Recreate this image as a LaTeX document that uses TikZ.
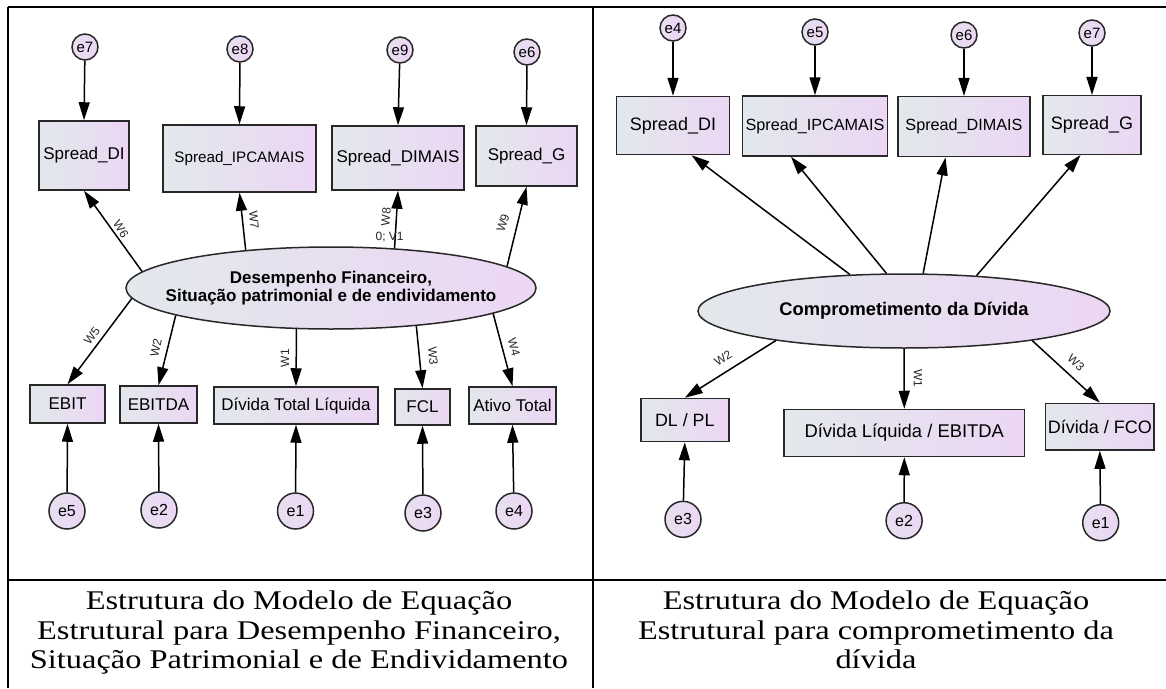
\documentclass[tikz,border=0pt]{standalone}
\usepackage{fontspec}
\setmainfont{Liberation Sans}
\newfontfamily\capfont[FakeStretch=1.2]{Liberation Serif}
\usetikzlibrary{arrows.meta,shapes.geometric}

\definecolor{fillL}{RGB}{226,232,236}
\definecolor{fillR}{RGB}{236,214,244}
\definecolor{edgec}{RGB}{40,40,40}

\tikzset{
 obs/.style={draw=edgec, line width=1.5pt, rectangle, left color=fillL, right color=fillR, inner sep=0pt, font=\fontsize{17}{20}\selectfont},
 err/.style={draw=edgec, line width=1.5pt, circle, inner sep=0pt, left color=fillL!50!fillR, right color=fillR, minimum size=26pt, font=\fontsize{15}{18}\selectfont},
 errb/.style={err, minimum size=36pt, font=\fontsize{16}{19}\selectfont},
 lat/.style={draw=edgec, line width=1.5pt, ellipse, left color=fillL, right color=fillR, inner sep=0pt},
 arr/.style={line width=1.5pt, -{Triangle[length=18pt,width=11pt]}},
 wlab/.style={font=\fontsize{12}{14}\selectfont, inner sep=0pt, text=black!85},
 gridline/.style={line width=2pt},
 captxt/.style={font=\capfont\fontsize{27}{29}\selectfont, anchor=base, inner sep=0pt},
}

\begin{document}
\begin{tikzpicture}[x=1pt,y=-1pt]
\useasboundingbox (0,0) rectangle (1166,688);
\fill[white] (0,0) rectangle (1166,688);

% table grid
\draw[gridline] (8,7) -- (1166,7);
\draw[gridline] (8,7) -- (8,688);
\draw[gridline] (593,7) -- (593,688);
\draw[gridline] (8,580) -- (1166,580);

% ---------- left panel ----------
\node[err] (e7) at (85,47) {e7};
\node[err] (e8) at (240,49) {e8};
\node[err] (e9) at (400,50) {e9};
\node[err] (e6) at (527,52) {e6};

\node[obs, minimum width=90pt, minimum height=69pt] (sdi) at (84,155.5) {Spread\_DI};
\node[obs, minimum width=153pt, minimum height=67pt, font=\fontsize{15.2}{18}\selectfont] (sipca) at (239.5,158.5) {Spread\_IPCAMAIS};
\node[obs, minimum width=132pt, minimum height=64pt] (sdimais) at (398,158) {Spread\_DIMAIS};
\node[obs, minimum width=101pt, minimum height=60pt] (sg) at (526.5,156) {Spread\_G};

\node[lat, minimum width=410pt, minimum height=82pt,
  label={[font=\bfseries\fontsize{17}{18.5}\selectfont, align=center]center:{Desempenho Financeiro,\\Situação patrimonial e de endividamento}}] (lat1) at (331,288) {};

\node[obs, minimum width=75pt, minimum height=38pt] (ebit) at (67.5,404) {EBIT};
\node[obs, minimum width=77pt, minimum height=37pt] (ebitda) at (158.5,404.5) {EBITDA};
\node[obs, minimum width=164pt, minimum height=37pt] (dtl) at (296,405.5) {Dívida Total Líquida};
\node[obs, minimum width=55pt, minimum height=36pt] (fcl) at (422.5,407) {FCL};
\node[obs, minimum width=87pt, minimum height=37pt] (ativo) at (512.5,405.5) {Ativo Total};

\node[errb] (e5) at (67,511) {e5};
\node[errb] (e2) at (159,510) {e2};
\node[errb] (e1) at (295.5,511) {e1};
\node[errb] (e3) at (423,513) {e3};
\node[errb] (e4) at (514,511) {e4};

\draw[arr] (e7) -- (sdi.north);
\draw[arr] (e8) -- (sipca.north);
\draw[arr] (e9) -- (sdimais.north);
\draw[arr] (e6) -- (sg.north);

\draw[arr] (lat1.175.6) -- (sdi.south);
\draw[arr] (lat1.156.6) -- (sipca.south);
\draw[arr] (lat1.32.2) -- (sdimais.south);
\draw[arr] (lat1.7.9) -- (sg.south);

\draw[arr] (lat1.183.9) -- (ebit.north);
\draw[arr] (lat1.190.4) -- (ebitda.north);
\draw[arr] (lat1.230.8) -- (dtl.north);
\draw[arr] (lat1.-24.7) -- (fcl.north);
\draw[arr] (lat1.-9.5) -- (ativo.north);

\draw[arr] (e5) -- (ebit.south);
\draw[arr] (e2) -- (ebitda.south);
\draw[arr] (e1) -- (dtl.south);
\draw[arr] (e3) -- (fcl.south);
\draw[arr] (e4) -- (ativo.south);

\node[wlab, rotate=-58] (lw6) at (121,229) {W6};
\node[wlab, rotate=-85] (lw7) at (254,220) {W7};
\node[wlab, rotate=86] (lw8) at (386,217) {W8};
\node[wlab] (lv1) at (389.6,237) {0; V1};
\node[wlab, rotate=72] (lw9) at (503,223) {W9};
\node[wlab, rotate=52] (lw5) at (92,336) {W5};
\node[wlab, rotate=78] (lw2) at (156,348) {W2};
\node[wlab, rotate=90] (lw1) at (285,358) {W1};
\node[wlab, rotate=-85] (lw3) at (433,356) {W3};
\node[wlab, rotate=-75] (lw4) at (514,347) {W4};

% ---------- right panel ----------
\node[err] (re4) at (673,28) {e4};
\node[err] (re5) at (815,32) {e5};
\node[err] (re6) at (964,35) {e6};
\node[err] (re7) at (1092,33) {e7};

\node[obs, minimum width=113pt, minimum height=58pt, font=\fontsize{18}{21}\selectfont] (rsdi) at (673,125.5) {Spread\_DI};
\node[obs, minimum width=145pt, minimum height=60pt, font=\fontsize{16.2}{19}\selectfont] (ripca) at (815,126) {Spread\_IPCAMAIS};
\node[obs, minimum width=132pt, minimum height=60pt, font=\fontsize{16.2}{19}\selectfont] (rdimais) at (964,126.7) {Spread\_DIMAIS};
\node[obs, minimum width=98pt, minimum height=58.6pt, font=\fontsize{18}{21}\selectfont] (rsg) at (1092,125) {Spread\_G};

\node[lat, minimum width=412pt, minimum height=74pt,
  label={[font=\bfseries\fontsize{18.3}{21}\selectfont]center:{Comprometimento da Dívida}}] (lat2) at (904,311) {};

\node[obs, minimum width=88pt, minimum height=43pt, font=\fontsize{17.8}{21}\selectfont] (dlpl) at (684.8,420) {DL / PL};
\node[obs, minimum width=240.6pt, minimum height=47pt, font=\fontsize{18.4}{21}\selectfont] (dle) at (904.3,433) {Dívida Líquida / EBITDA};
\node[obs, minimum width=108.5pt, minimum height=46.7pt, font=\fontsize{18}{21}\selectfont] (dfco) at (1099.8,426.7) {Dívida / FCO};

\node[errb] (re3) at (683,519.3) {e3};
\node[errb] (re2) at (904.1,520.7) {e2};
\node[errb] (re1) at (1100.7,522.7) {e1};

\draw[arr] (re4) -- (rsdi.north);
\draw[arr] (re5) -- (ripca.north);
\draw[arr] (re6) -- (rdimais.north);
\draw[arr] (re7) -- (rsg.north);

\draw[arr] (lat2.146.3) -- (rsdi.-58);
\draw[arr] (lat2.115.9) -- (ripca.-128.3);
\draw[arr] (lat2.63.4) -- (rdimais.-121.5);
\draw[arr] (lat2.26.1) -- (rsg.-111.6);

\draw[arr] (lat2.193.3) -- (dlpl.north);
\draw[arr] (lat2.south) -- (dle.north);
\draw[arr] (lat2.-13.2) -- (dfco.north);

\draw[arr] (re3) -- (dlpl.south);
\draw[arr] (re2) -- (dle.south);
\draw[arr] (re1) -- (dfco.south);

\node[wlab, rotate=32] (rw2) at (723,358) {W2};
\node[wlab, rotate=-90] (rw1) at (918,378) {W1};
\node[wlab, rotate=-43] (rw3) at (1076,363) {W3};

% ---------- captions ----------
\node[captxt] (cl1) at (299,609) {Estrutura do Modelo de Equação};
\node[captxt] (cl2) at (299,639) {Estrutural para Desempenho Financeiro,};
\node[captxt] (cl3) at (299,668) {Situação Patrimonial e de Endividamento};
\node[captxt] (cr1) at (876,609) {Estrutura do Modelo de Equação};
\node[captxt] (cr2) at (876,639) {Estrutural para comprometimento da};
\node[captxt] (cr3) at (876,668) {dívida};
\end{tikzpicture}
\end{document}
